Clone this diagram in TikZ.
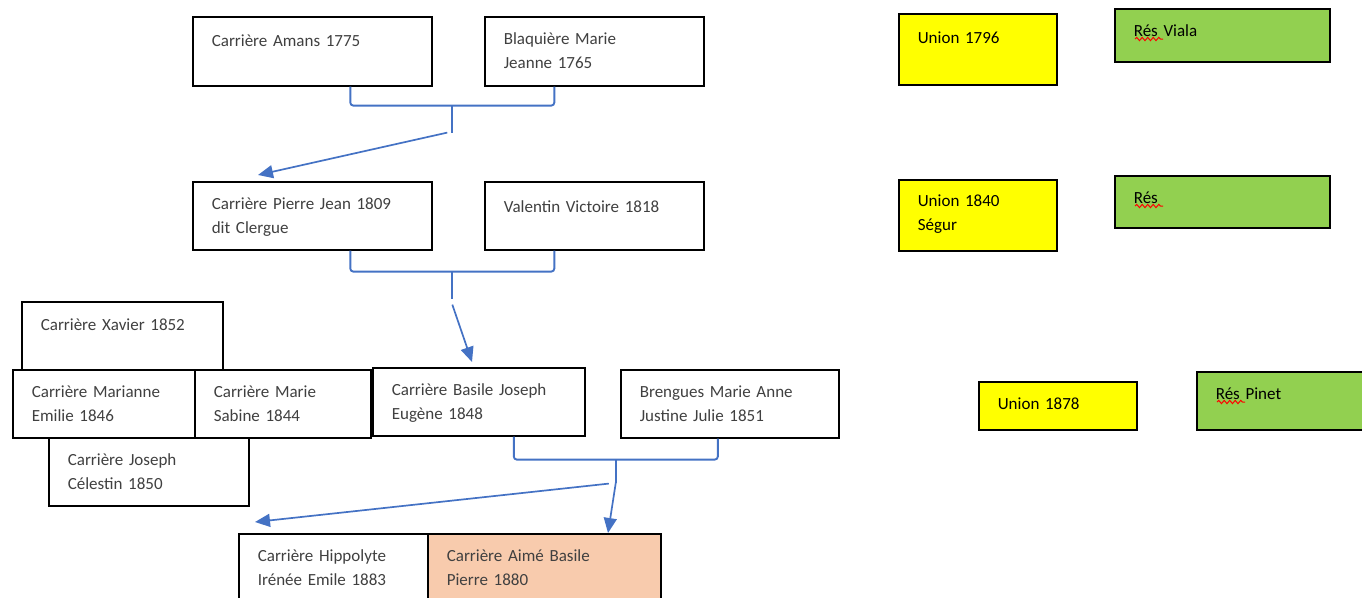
\documentclass[tikz,border=0pt]{standalone}
\usepackage{fontspec}
\setmainfont{Carlito}
\usepackage{xcolor}
\usepackage{tikz}
\usetikzlibrary{arrows.meta, calc, decorations.pathmorphing}

\definecolor{linkblue}{HTML}{4472C4}
\definecolor{unionyellow}{HTML}{FFFF00}
\definecolor{resgreen}{HTML}{92D050}
\definecolor{aimepeach}{HTML}{F8CBAD}
\definecolor{nametext}{HTML}{404040}

\begin{document}
\begin{tikzpicture}[x=1pt, y=-1pt,
    person/.style={draw=black, line width=1.6pt, fill=white, anchor=north west,
      align=left, inner xsep=19pt, inner ysep=0pt, text height=27.5pt,
      text=nametext, font=\fontsize{17}{24}\selectfont},
    union/.style={person, fill=unionyellow, text=black},
    res/.style={person, fill=resgreen, text=black},
    link/.style={linkblue, line width=1.9pt, rounded corners=3pt},
    arr/.style={linkblue, line width=1.7pt, -{Triangle[length=15pt, width=13pt]}},
    squiggle/.style={red, line width=1pt, decorate,
      decoration={snake, amplitude=1.6pt, segment length=5.5pt}}
  ]

    \useasboundingbox (0,0) rectangle (1362,597);
    \clip (0,0) rectangle (1362,597);

    % Parents
    \node[person, text width=201pt, text height=30pt, text depth=39pt] (amans) at (192,16) {Carrière Amans 1775};
    \node[person, text width=181pt, text depth=41.5pt] (blaquiere) at (484,16) {Blaquière Marie\\Jeanne 1765};

    % Couple 1809
    \node[person, text width=201pt, text depth=40.5pt] (pierre) at (192,181) {Carrière Pierre Jean 1809\\dit Clergue};
    \node[person, text width=181pt, text height=31pt, text depth=37pt] (valentin) at (484,181) {Valentin Victoire 1818};

    % Children
    \node[person, text width=163pt, text height=29pt, text depth=39pt] (xavier) at (21,301) {Carrière Xavier 1852};
    \node[person, text width=144pt, text depth=40.5pt] (marianne) at (12,369) {Carrière Marianne\\Emilie 1846};
    \node[person, text width=138pt, text depth=40.5pt] (sabine) at (194,369) {Carrière Marie\\Sabine 1844};
    \node[person, text width=174pt, text depth=40.5pt] (basile) at (372,367) {Carrière Basile Joseph\\Eugène 1848};
    \node[person, text width=162pt, text depth=40.5pt] (celestin) at (48,437) {Carrière Joseph\\Célestin 1850};
    \node[person, text width=180pt, text depth=40.5pt] (brengues) at (620,369) {Brengues Marie Anne\\Justine Julie 1851};

    % Grandchildren
    \node[person, text width=151pt, text depth=52.5pt] (hippolyte) at (238,533) {Carrière Hippolyte\\Irénée Emile 1883};
    \node[person, fill=aimepeach, text width=195pt, text depth=52.5pt] (aime) at (427,533) {Carrière Aimé Basile\\Pierre 1880};

    % Unions
    \node[union, text width=120pt, text height=30pt, text depth=41pt] (union1796) at (898,13) {Union 1796};
    \node[union, text width=120pt, text height=26.5pt, text depth=44.5pt] (union1840) at (898,179) {Union 1840\\Ségur};
    \node[union, text width=120pt, text depth=20.5pt] (union1878) at (978,381) {Union 1878};

    % Residences
    \node[res, text width=177pt, text height=28pt, text depth=25pt] (viala) at (1114,8) {Rés Viala};
    \node[res, text width=177pt, text depth=24.5pt] (resb) at (1114,175) {Rés};
    \node[res, text width=177pt, text depth=30.5pt] (pinet) at (1196,371) {Rés Pinet};

    \draw[squiggle] ($(viala.north west)+(21,31)$) -- ++(28,0);
    \draw[squiggle] ($(resb.north west)+(21,31)$) -- ++(28,0);
    \draw[squiggle] ($(pinet.north west)+(21,31)$) -- ++(28,0);

    % Brace 1
    \coordinate (b1l) at ($(amans.south)+(38,0)$);
    \coordinate (b1r) at ($(blaquiere.south)+(-40,0)$);
    \coordinate (b1m) at ($(b1l)!0.5!(b1r)+(0,19)$);
    \draw[link] (b1l) |- (b1m) -| (b1r);
    \draw[link] (b1m) -- ++(0,27) coordinate (b1s);
    \draw[arr] ($(b1s)+(-5,0)$) -- ($(pierre.north west)+(66,-6)$);

    % Brace 2
    \coordinate (b2l) at ($(pierre.south)+(38,0)$);
    \coordinate (b2r) at ($(valentin.south)+(-40,0)$);
    \coordinate (b2m) at ($(b2l)!0.5!(b2r)+(0,21)$);
    \draw[link] (b2l) |- (b2m) -| (b2r);
    \draw[link] (b2m) -- ++(0,27) coordinate (b2s);
    \draw[arr] ($(b2s)+(0,6)$) -- ($(basile.north west)+(100,-5)$);

    % Brace 3
    \coordinate (b3l) at ($(basile.south)+(35,0)$);
    \coordinate (b3r) at ($(brengues.south)+(-12,0)$);
    \coordinate (b3m) at ($(b3l)!0.5!(b3r)+(0,22)$);
    \draw[link] (b3l) |- (b3m) -| (b3r);
    \draw[link] (b3m) -- ++(0,23) coordinate (b3s);
    \draw[arr] (b3s) -- ($(aime.north west)+(181,0)$);
    \draw[arr] ($(b3s)+(-7,1)$) -- ($(hippolyte.north west)+(17,-11)$);
\end{tikzpicture}
\end{document}
